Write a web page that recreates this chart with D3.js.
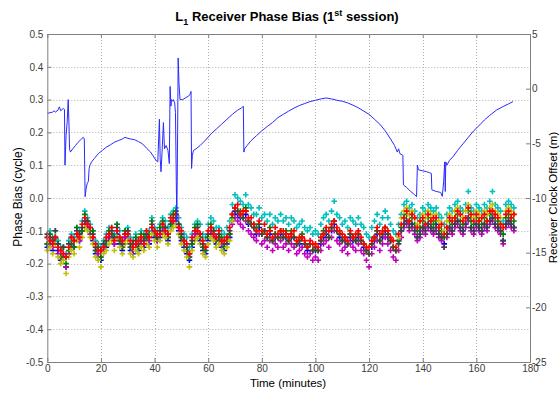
<!DOCTYPE html>
<html>
<head>
<meta charset="utf-8">
<script src="https://cdn.jsdelivr.net/npm/d3@7"></script>
<style>
  body { margin: 0; background: #fff; }
  svg { font-family: "Liberation Sans", Arial, sans-serif; }
</style>
</head>
<body>
<div id="chart"></div>
<script>
// phase bias per satellite (cycle), one value per minute from t = 0
const biasBlue = [
  -.15,-.14,-.16,-.13,-.16,-.19,-.18,-.21,-.17,-.15,
  -.15,-.12,-.13,-.10,-.08,-.09,-.10,-.13,-.17,-.18,
  -.19,-.16,-.15,-.12,-.12,-.14,-.11,-.14,-.16,-.12,
  -.12,-.16,-.17,-.14,-.16,-.13,-.15,-.12,-.14,-.10,
  -.12,-.13,-.12,-.10,-.11,-.13,-.09,-.08,-.07,-.10,
  -.13,-.15,-.17,-.19,-.15,-.12,-.11,-.13,-.16,-.17,
  -.13,-.11,-.12,-.14,-.13,-.15,-.16,-.14,-.12,-.07,
  -.04,-.05,-.06,-.06,-.05,-.08,-.08,-.09,-.11,-.09,
  -.11,-.10,-.12,-.11,-.13,-.12,-.12,-.11,-.12,-.12,
  -.13,-.12,-.12,-.14,-.14,-.12,-.14,-.16,-.14,-.16,
  -.16,-.16,-.14,-.12,-.11,-.12,-.10,-.08,-.10,-.12,
  -.13,-.13,-.14,-.12,-.13,-.13,-.12,-.13,-.15,-.16,
  -.17,-.15,-.13,-.11,-.13,-.12,-.10,-.12,-.13,-.15,
  -.16,-.13,-.10,-.08,-.07,-.08,-.08,-.09,-.12,-.10,
  -.09,-.09,-.08,-.09,-.10,-.08,-.11,-.12,-.14,-.11,
  -.09,-.10,-.08,-.07,-.09,-.10,-.08,-.06,-.09,-.10,
  -.08,-.09,-.10,-.08,-.09,-.07,-.06,-.08,-.09,-.10,
  -.13,-.08,-.07,-.08,-.09
];
const biasCyan = [
  -.12,-.10,-.12,-.10,-.13,-.15,-.15,-.17,-.13,-.11,
  -.12,-.09,-.10,-.07,-.04,-.06,-.08,-.10,-.13,-.14,
  -.15,-.13,-.11,-.09,-.09,-.11,-.08,-.10,-.13,-.10,
  -.09,-.12,-.13,-.11,-.13,-.10,-.11,-.10,-.10,-.06,
  -.09,-.10,-.08,-.06,-.07,-.09,-.05,-.04,-.03,-.06,
  -.09,-.11,-.12,-.15,-.11,-.08,-.07,-.08,-.11,-.12,
  -.08,-.06,-.07,-.09,-.09,-.10,-.11,-.09,-.07,-.02,
  .01,0,-.01,-.02,.01,-.02,-.03,-.05,-.05,-.03,
  -.06,-.05,-.07,-.05,-.08,-.06,-.07,-.05,-.07,-.06,
  -.08,-.06,-.07,-.09,-.08,-.07,-.09,-.10,-.09,-.11,
  -.10,-.11,-.08,-.06,-.05,-.07,-.04,-.01,-.05,-.06,
  -.08,-.07,-.09,-.06,-.07,-.08,-.06,-.08,-.09,-.11,
  -.12,-.09,-.07,-.05,-.08,-.06,-.04,-.06,-.08,-.10,
  -.11,-.08,-.05,-.02,-.01,-.03,-.02,-.04,-.06,-.05,
  -.03,-.04,-.02,-.03,-.04,-.03,-.05,-.06,-.08,-.05,
  -.03,-.04,-.02,-.01,-.03,-.04,-.02,.02,-.03,-.04,
  -.02,-.03,-.04,-.02,-.03,-.01,.02,-.02,-.03,-.04,
  -.07,-.02,-.01,-.02,-.03
];
const biasMagenta = [
  -.14,-.13,-.15,-.12,-.17,-.18,-.17,-.21,-.17,-.14,
  -.15,-.11,-.13,-.10,-.07,-.08,-.11,-.12,-.16,-.17,
  -.18,-.15,-.14,-.12,-.11,-.14,-.10,-.13,-.15,-.12,
  -.11,-.15,-.16,-.14,-.15,-.13,-.14,-.12,-.13,-.09,
  -.11,-.13,-.11,-.09,-.10,-.12,-.08,-.07,-.06,-.09,
  -.12,-.14,-.16,-.18,-.14,-.11,-.10,-.12,-.15,-.16,
  -.12,-.10,-.11,-.13,-.12,-.14,-.15,-.13,-.11,-.08,
  -.06,-.07,-.08,-.09,-.07,-.10,-.11,-.12,-.13,-.11,
  -.14,-.13,-.15,-.13,-.16,-.14,-.15,-.13,-.15,-.14,
  -.16,-.14,-.15,-.17,-.16,-.15,-.17,-.18,-.17,-.19,
  -.18,-.19,-.16,-.14,-.13,-.15,-.12,-.10,-.13,-.14,
  -.16,-.15,-.17,-.14,-.15,-.16,-.14,-.16,-.17,-.19,
  -.21,-.17,-.15,-.13,-.16,-.14,-.12,-.14,-.16,-.18,
  -.19,-.16,-.12,-.09,-.08,-.10,-.09,-.11,-.13,-.12,
  -.10,-.11,-.09,-.10,-.11,-.10,-.12,-.13,-.15,-.12,
  -.10,-.11,-.09,-.08,-.10,-.11,-.09,-.07,-.10,-.11,
  -.09,-.10,-.11,-.09,-.10,-.08,-.07,-.09,-.10,-.11,
  -.14,-.09,-.08,-.09,-.10
];
const biasGreen = [
  -.14,-.11,-.13,-.12,-.14,-.18,-.15,-.20,-.16,-.14,
  -.15,-.09,-.11,-.10,-.05,-.07,-.10,-.10,-.16,-.15,
  -.18,-.14,-.14,-.10,-.11,-.12,-.08,-.13,-.15,-.10,
  -.10,-.15,-.14,-.12,-.15,-.11,-.12,-.12,-.11,-.07,
  -.11,-.12,-.09,-.07,-.09,-.12,-.08,-.05,-.04,-.08,
  -.12,-.14,-.16,-.18,-.14,-.09,-.08,-.12,-.15,-.16,
  -.12,-.08,-.10,-.13,-.12,-.12,-.15,-.13,-.11,-.06,
  -.03,-.04,-.04,-.06,-.03,-.07,-.08,-.08,-.09,-.08,
  -.11,-.10,-.12,-.09,-.13,-.11,-.12,-.10,-.12,-.10,
  -.13,-.10,-.12,-.14,-.13,-.11,-.14,-.15,-.14,-.16,
  -.15,-.16,-.13,-.10,-.10,-.12,-.09,-.07,-.10,-.11,
  -.13,-.12,-.14,-.11,-.12,-.13,-.11,-.13,-.14,-.16,
  -.17,-.14,-.12,-.10,-.13,-.11,-.09,-.11,-.13,-.15,
  -.16,-.13,-.09,-.06,-.05,-.07,-.06,-.08,-.10,-.09,
  -.07,-.08,-.06,-.07,-.08,-.07,-.09,-.10,-.12,-.09,
  -.07,-.08,-.06,-.05,-.07,-.08,-.06,-.04,-.07,-.08,
  -.06,-.07,-.08,-.06,-.07,-.05,-.04,-.06,-.07,-.08,
  -.11,-.06,-.05,-.06,-.07
];
const biasYellow = [
  -.16,-.15,-.17,-.14,-.18,-.20,-.19,-.23,-.18,-.16,
  -.17,-.13,-.15,-.12,-.09,-.10,-.12,-.14,-.18,-.19,
  -.21,-.17,-.16,-.14,-.13,-.16,-.12,-.15,-.17,-.14,
  -.13,-.17,-.18,-.16,-.17,-.15,-.16,-.14,-.15,-.11,
  -.13,-.15,-.13,-.11,-.12,-.14,-.10,-.09,-.08,-.11,
  -.14,-.16,-.18,-.21,-.16,-.13,-.12,-.14,-.17,-.18,
  -.14,-.12,-.13,-.15,-.14,-.16,-.17,-.15,-.13,-.07,
  -.03,-.04,-.05,-.06,-.04,-.07,-.08,-.09,-.10,-.08,
  -.11,-.10,-.12,-.10,-.13,-.11,-.12,-.10,-.12,-.11,
  -.13,-.11,-.12,-.14,-.13,-.12,-.14,-.15,-.14,-.16,
  -.15,-.16,-.13,-.11,-.10,-.12,-.09,-.07,-.10,-.11,
  -.13,-.12,-.14,-.11,-.12,-.13,-.11,-.13,-.14,-.16,
  -.17,-.14,-.12,-.10,-.13,-.11,-.09,-.11,-.13,-.15,
  -.16,-.12,-.06,-.04,-.03,-.05,-.04,-.06,-.08,-.07,
  -.05,-.06,-.04,-.05,-.06,-.05,-.07,-.08,-.10,-.07,
  -.05,-.06,-.04,-.03,-.05,-.06,-.04,-.02,-.05,-.06,
  -.04,-.05,-.06,-.04,-.05,-.03,-.02,-.04,-.05,-.06,
  -.09,-.04,-.03,-.04,-.05
];
const biasBlack = [
  -.11,-.12,-.13,-.10,-.14,-.16,-.15,-.18,-.14,-.12,
  -.13,-.10,-.11,-.09,-.07,-.07,-.09,-.11,-.15,-.16,
  -.16,-.14,-.13,-.11,-.10,-.12,-.09,-.12,-.14,-.11,
  -.10,-.14,-.14,-.13,-.14,-.12,-.13,-.11,-.12,-.08,
  -.10,-.12,-.10,-.08,-.09,-.11,-.07,-.06,-.05,-.08,
  -.11,-.13,-.15,-.17,-.13,-.10,-.09,-.11,-.14,-.15,
  -.11,-.09,-.10,-.12,-.11,-.13,-.14,-.12,-.10,-.05,
  -.03,-.04,-.05,-.06,-.04,-.07,-.08,-.09,-.10,-.08,
  -.11,-.10,-.12,-.10,-.13,-.11,-.12,-.10,-.12,-.11,
  -.13,-.11,-.12,-.14,-.13,-.12,-.14,-.15,-.14,-.16,
  -.15,-.16,-.13,-.11,-.10,-.12,-.09,-.07,-.10,-.11,
  -.13,-.12,-.14,-.11,-.12,-.13,-.11,-.13,-.14,-.16,
  -.17,-.14,-.12,-.10,-.13,-.11,-.09,-.11,-.13,-.15,
  -.16,-.14,-.10,-.08,-.07,-.09,-.08,-.10,-.12,-.11,
  -.09,-.10,-.08,-.09,-.10,-.09,-.11,-.12,-.15,-.11,
  -.09,-.10,-.08,-.07,-.09,-.10,-.08,-.06,-.09,-.10,
  -.08,-.09,-.10,-.08,-.09,-.07,-.06,-.08,-.09,-.10,
  -.13,-.08,-.07,-.08,-.09
];
const biasRed = [
  -.12,-.13,-.14,-.12,-.15,-.16,-.17,-.18,-.15,-.12,
  -.13,-.11,-.12,-.08,-.06,-.08,-.09,-.12,-.14,-.16,
  -.16,-.15,-.12,-.11,-.09,-.13,-.10,-.12,-.13,-.11,
  -.11,-.13,-.15,-.14,-.13,-.12,-.14,-.10,-.12,-.09,
  -.10,-.11,-.11,-.08,-.10,-.11,-.06,-.07,-.05,-.09,
  -.10,-.13,-.14,-.17,-.12,-.10,-.10,-.11,-.13,-.15,
  -.10,-.09,-.11,-.12,-.10,-.13,-.13,-.12,-.09,-.05,
  -.03,-.02,-.05,-.04,-.04,-.06,-.06,-.08,-.10,-.07,
  -.10,-.08,-.11,-.10,-.12,-.09,-.11,-.10,-.10,-.11,
  -.12,-.11,-.10,-.13,-.12,-.12,-.13,-.15,-.13,-.14,
  -.14,-.15,-.12,-.11,-.09,-.10,-.08,-.07,-.09,-.10,
  -.11,-.12,-.13,-.10,-.12,-.11,-.10,-.12,-.14,-.15,
  -.15,-.13,-.12,-.09,-.11,-.10,-.09,-.10,-.12,-.13,
  -.15,-.11,-.08,-.06,-.04,-.07,-.05,-.06,-.09,-.07,
  -.06,-.08,-.05,-.07,-.06,-.06,-.09,-.08,-.11,-.09,
  -.06,-.07,-.06,-.04,-.05,-.07,-.06,-.03,-.05,-.07,
  -.05,-.07,-.06,-.05,-.07,-.04,-.04,-.05,-.06,-.08,
  -.09,-.05,-.04,-.06,-.05
];

// receiver clock offset (m), irregular sample times (minutes)
const clockMin = [0,1,2,2.5,3,4,4.5,5,5.5,6,6.4,6.6,7,7.4,7.8,8.1,8.3,8.6,9.5,10.5,11.5,12.5,13.4,13.8,14.1,14.5,14.9,15.3,15.6,15.9,16.5,17.5,19,20.5,22,23.5,25,26.5,28,29,30,31,32.5,34,35.5,37,38.5,39.5,40.5,41.2,41.8,42.1,42.4,42.8,43.3,43.7,44.3,45,45.5,45.8,46.1,46.3,46.7,47,47.5,47.8,48.1,48.3,48.6,48.8,49.1,49.5,50.5,51.5,52.5,53.2,53.6,53.8,54.1,54.5,55.5,57,59.4,61,63,65,67,69,71,72.5,73.1,73.3,73.6,74.5,76,78,80,82,84,86,88,90,92,94,96,98,100,102,104,106,108,110,112,114,116,118,120,122,124,126,128,129.5,130.5,131,131.5,132.6,132.8,134,135.5,137,137.7,138,138.4,140,141.5,142.6,143.2,143.4,145,146.7,147.3,147.8,148.2,148.4,148.6,149,150,151.3,153,155,157,159,161.3,163,165,167.5,170,172,173.7];
const clockOffset = [-2.26,-2.2,-2.14,-2.02,-2.14,-1.96,-1.66,-2.02,-1.9,-1.81,-1.9,-7.0,-4.3,-3.1,-1.0,-3.4,-5.5,-5.8,-5.5,-5.2,-4.9,-4.66,-4.45,-4.6,-9.88,-9.1,-8.65,-8.5,-7.3,-7.0,-6.7,-6.4,-5.95,-5.65,-5.35,-5.14,-4.9,-4.75,-4.6,-4.45,-4.54,-4.6,-4.66,-4.84,-5.05,-5.44,-5.8,-6.16,-6.55,-6.7,-2.8,-6.4,-7.6,-5.8,-3.1,-5.5,-5.2,-5.65,-6.85,0.2,-1.6,-1.0,-1.15,-1.0,-1.3,-2.2,-8.5,-12.1,-4.0,2.81,0.5,-1.0,-1.0,-0.85,-0.7,-0.55,-0.25,-7.3,-6.1,-5.65,-5.5,-5.2,-4.6,-4.15,-3.7,-3.25,-2.8,-2.35,-1.96,-1.75,-1.6,-5.8,-5.5,-5.2,-4.75,-4.3,-3.85,-3.46,-3.1,-2.65,-2.35,-2.05,-1.78,-1.54,-1.36,-1.18,-1.06,-0.94,-0.85,-0.94,-1.06,-1.15,-1.3,-1.51,-1.75,-2.05,-2.35,-2.8,-3.25,-3.85,-4.6,-5.2,-5.8,-5.5,-5.95,-6.1,-8.8,-9.04,-9.4,-9.7,-9.88,-7.0,-7.42,-7.51,-7.6,-7.69,-7.75,-9.25,-9.4,-9.49,-9.85,-8.5,-6.7,-9.4,-6.7,-7.0,-6.55,-6.22,-5.65,-5.05,-4.45,-3.85,-3.31,-2.86,-2.44,-1.96,-1.63,-1.39,-1.18];

const xTicks = [0,20,40,60,80,100,120,140,160,180];
const leftTicks = [-0.5,-0.4,-0.3,-0.2,-0.1,0,0.1,0.2,0.3,0.4,0.5];
const rightTicks = [-25,-20,-15,-10,-5,0,5];

// draw order, last on top
const seriesList = [
  { values: biasBlue, color: "#0000ff" },
  { values: biasCyan, color: "#00bfbf" },
  { values: biasMagenta, color: "#bf00bf" },
  { values: biasGreen, color: "#008000" },
  { values: biasYellow, color: "#bfbf00" },
  { values: biasBlack, color: "#404040" },
  { values: biasRed, color: "#ff0000" }
];

const W = 560, H = 393;
const plot = { left: 47.3, right: 530, top: 34, bottom: 362 };

const svg = d3.select("#chart").append("svg")
  .attr("width", W).attr("height", H);

const x = d3.scaleLinear().domain([0, 180]).range([plot.left, plot.right]);
const yL = d3.scaleLinear().domain([-0.5, 0.5]).range([plot.bottom, plot.top]);
const yR = d3.scaleLinear().domain([-25, 5]).range([plot.bottom, plot.top]);

// grid (dotted)
const grid = svg.append("g").attr("stroke", "#b0b0b0").attr("stroke-dasharray", "1,2").attr("stroke-width", 1);
grid.selectAll(".gx").data(xTicks.slice(1, -1)).enter().append("line")
  .attr("x1", d => Math.round(x(d)) + 0.5).attr("x2", d => Math.round(x(d)) + 0.5)
  .attr("y1", plot.top).attr("y2", plot.bottom);
grid.selectAll(".gy").data(leftTicks.slice(1, -1)).enter().append("line")
  .attr("x1", plot.left).attr("x2", plot.right)
  .attr("y1", d => Math.round(yL(d)) + 0.5).attr("y2", d => Math.round(yL(d)) + 0.5);

// phase bias markers (small '+')
const plus = "M-2.8,0H2.8M0,-2.8V2.8";
seriesList.forEach(s => {
  svg.append("g")
    .attr("stroke", s.color).attr("stroke-width", 1.6)
    .selectAll("path").data(s.values).enter().append("path")
    .attr("d", plus)
    .attr("transform", (d, i) => `translate(${x(i)},${yL(d)})`);
});

// clock offset line
const clockPts = clockMin.map((t, i) => [t, clockOffset[i]]);
svg.append("path")
  .datum(clockPts)
  .attr("fill", "none")
  .attr("stroke", "#2a2aff")
  .attr("stroke-width", 1)
  .attr("d", d3.line().x(d => x(d[0])).y(d => yR(d[1])));

// axes
const axisColor = "#808080", textColor = "#3c3c3c";
function styleAxis(g) {
  g.select(".domain").attr("stroke", axisColor);
  g.selectAll(".tick line").attr("stroke", axisColor);
  g.selectAll(".tick text").attr("fill", textColor).attr("font-size", 10)
    .attr("font-family", "Liberation Sans, Arial, sans-serif");
}

svg.append("g")
  .attr("transform", `translate(${plot.left},0)`)
  .call(d3.axisLeft(yL).tickValues(leftTicks).tickFormat(d => d.toFixed(1))
    .tickSizeInner(-4).tickSizeOuter(0).tickPadding(4))
  .call(styleAxis);

svg.append("g")
  .attr("transform", `translate(${plot.right},0)`)
  .call(d3.axisRight(yR).tickValues(rightTicks).tickFormat(d => String(d))
    .tickSizeInner(-4).tickSizeOuter(0).tickPadding(2))
  .call(styleAxis);

svg.append("g")
  .attr("transform", `translate(0,${plot.bottom})`)
  .call(d3.axisBottom(x).tickValues(xTicks).tickFormat(d => String(d))
    .tickSizeInner(-4).tickSizeOuter(0).tickPadding(3))
  .call(styleAxis);

svg.append("g")
  .attr("transform", `translate(0,${plot.top})`)
  .call(d3.axisTop(x).tickValues(xTicks).tickFormat("")
    .tickSizeInner(-4).tickSizeOuter(0))
  .call(styleAxis);

// title
const title = svg.append("text")
  .attr("x", 287).attr("y", 20.5)
  .attr("text-anchor", "middle")
  .attr("font-size", 13).attr("font-weight", "bold").attr("fill", "#000");
title.append("tspan").text("L");
title.append("tspan").attr("font-size", 9).attr("dy", 4).text("1");
title.append("tspan").attr("dy", -4).text(" Receiver Phase Bias (1");
title.append("tspan").attr("font-size", 9).attr("dy", -5).text("st");
title.append("tspan").attr("dy", 5).text(" session)");

// axis labels
svg.append("text")
  .attr("x", 288).attr("y", 387)
  .attr("text-anchor", "middle")
  .attr("font-size", 11.5).attr("fill", "#000")
  .text("Time (minutes)");

svg.append("text")
  .attr("transform", "translate(21.5,197) rotate(-90)")
  .attr("text-anchor", "middle")
  .attr("font-size", 12).attr("fill", "#000")
  .text("Phase Bias (cycle)");

svg.append("text")
  .attr("transform", "translate(557,197.5) rotate(-90)")
  .attr("text-anchor", "middle")
  .attr("font-size", 11.5).attr("fill", "#000")
  .text("Receiver Clock Offset (m)");
</script>
</body>
</html>
